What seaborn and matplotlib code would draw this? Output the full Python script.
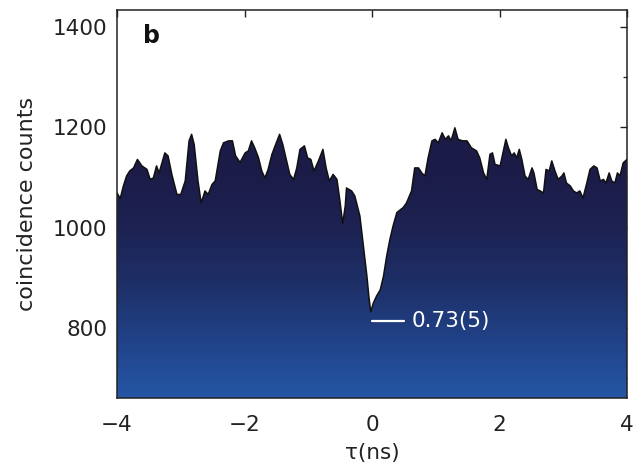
import numpy as np
import pandas as pd
import matplotlib
matplotlib.use("Agg")
import matplotlib.pyplot as plt
from matplotlib.colors import LinearSegmentedColormap
from matplotlib.ticker import MultipleLocator
import seaborn as sns

# Delay between detection events (ns) and coincidence counts
tau_ns = [
    -4.00, -3.95, -3.90, -3.85, -3.80, -3.74, -3.68, -3.61, -3.53, -3.48,
    -3.43, -3.38, -3.34, -3.25, -3.20, -3.14, -3.06, -3.00, -2.93, -2.87,
    -2.83, -2.79, -2.73, -2.68, -2.62, -2.57, -2.51, -2.46, -2.38, -2.33,
    -2.25, -2.19, -2.14, -2.07, -1.99, -1.94, -1.89, -1.84, -1.78, -1.73,
    -1.68, -1.63, -1.57, -1.52, -1.45, -1.40, -1.34, -1.29, -1.23, -1.18,
    -1.13, -1.06, -1.01, -0.96, -0.91, -0.84, -0.77, -0.72, -0.67, -0.61,
    -0.55, -0.50, -0.46, -0.42, -0.40, -0.32, -0.27, -0.19, -0.14, -0.08,
    -0.05, -0.02, 0.02, 0.07, 0.13, 0.18, 0.23, 0.28, 0.33, 0.39,
    0.49, 0.54, 0.62, 0.67, 0.73, 0.78, 0.83, 0.88, 0.94, 0.99,
    1.04, 1.10, 1.15, 1.20, 1.24, 1.30, 1.35, 1.42, 1.49, 1.56,
    1.64, 1.69, 1.75, 1.80, 1.85, 1.89, 1.93, 2.01, 2.06, 2.10,
    2.14, 2.19, 2.23, 2.27, 2.31, 2.35, 2.40, 2.45, 2.51, 2.54,
    2.59, 2.64, 2.69, 2.73, 2.78, 2.82, 2.87, 2.92, 2.98, 3.01,
    3.05, 3.11, 3.16, 3.21, 3.26, 3.31, 3.37, 3.42, 3.48, 3.53,
    3.58, 3.63, 3.67, 3.72, 3.76, 3.81, 3.85, 3.89, 3.94, 4.00,
]
counts = [
    1069, 1058, 1083, 1103, 1113, 1119, 1136, 1123, 1116, 1096,
    1099, 1123, 1109, 1149, 1143, 1106, 1066, 1066, 1093, 1173,
    1186, 1166, 1093, 1049, 1073, 1066, 1086, 1093, 1153, 1169,
    1173, 1173, 1143, 1130, 1149, 1153, 1173, 1159, 1139, 1113,
    1099, 1116, 1146, 1163, 1186, 1166, 1133, 1106, 1096, 1119,
    1156, 1163, 1139, 1136, 1113, 1133, 1156, 1119, 1093, 1106,
    1096, 1050, 1008, 1043, 1079, 1073, 1063, 1023, 969, 903,
    863, 832, 849, 863, 876, 903, 943, 976, 1003, 1030,
    1040, 1049, 1073, 1119, 1119, 1109, 1103, 1139, 1173, 1176,
    1169, 1189, 1176, 1183, 1173, 1199, 1176, 1173, 1173, 1159,
    1153, 1139, 1109, 1096, 1146, 1149, 1126, 1123, 1153, 1176,
    1159, 1143, 1149, 1139, 1156, 1136, 1103, 1096, 1119, 1109,
    1076, 1073, 1069, 1116, 1113, 1133, 1113, 1096, 1103, 1109,
    1089, 1083, 1073, 1069, 1073, 1059, 1089, 1116, 1123, 1119,
    1093, 1096, 1089, 1109, 1093, 1089, 1109, 1103, 1129, 1136,
]

x_ticks = [-4, -2, 0, 2, 4]
y_ticks = [800, 1000, 1200, 1400]
x_limits = (-4, 4)
y_limits = (660, 1434)
dip_label = "0.73(5)"
dip_label_level = 813
panel_letter = "b"

df = pd.DataFrame({"tau": tau_ns, "counts": counts})

sns.set_theme(style="white")
plt.rcParams["font.family"] = ["DejaVu Sans"]

fig = plt.figure(figsize=(6.35, 4.68), dpi=100)
ax = fig.add_axes([0.1843, 0.1496, 0.8031, 0.829])

# Area under the histogram, painted with a vertical navy-to-blue gradient
area = ax.fill_between(df["tau"], df["counts"], y_limits[0],
                       facecolor="none", edgecolor="none")
grad_cmap = LinearSegmentedColormap.from_list(
    "navy_blue",
    [(0.0, "#2557a5"), (0.18, "#21438a"), (0.38, "#1e3068"),
     (0.58, "#1c2252"), (0.75, "#1c1c49"), (1.0, "#1c1a45")],
)
levels = np.linspace(0, 1, 256).reshape(-1, 1)
img = ax.imshow(levels, cmap=grad_cmap, origin="lower", aspect="auto",
                extent=[x_limits[0], x_limits[1], y_limits[0], 1250],
                interpolation="bicubic", zorder=1)
img.set_clip_path(area.get_paths()[0], ax.transData)

sns.lineplot(data=df, x="tau", y="counts", ax=ax, color="#111111",
             linewidth=1.1, zorder=2)

# Marker for the normalized dip depth
ax.plot([0.0, 0.5], [dip_label_level, dip_label_level], color="white",
        linewidth=1.6, zorder=3)
ax.text(0.62, dip_label_level, dip_label, color="white", fontsize=15.5,
        va="center", ha="left", zorder=3)

ax.text(0.05, 0.915, panel_letter, transform=ax.transAxes, fontsize=17,
        fontweight="bold", color="#111111", va="baseline", ha="left")

ax.set_xlim(*x_limits)
ax.set_ylim(*y_limits)
ax.set_xticks(x_ticks)
ax.set_xticklabels([f"\u2212{abs(v)}" if v < 0 else str(v) for v in x_ticks])
ax.set_yticks(y_ticks)
ax.yaxis.set_minor_locator(MultipleLocator(100))
ax.tick_params(axis="both", which="both", direction="in", top=True,
               right=True, colors="#222222", labelcolor="#222222")
ax.tick_params(axis="both", which="major", length=5, width=1.0,
               labelsize=15.5)
ax.tick_params(axis="y", which="minor", length=3, width=0.9)
ax.tick_params(axis="y", which="major", pad=7)
ax.tick_params(axis="x", which="major", pad=12)

ax.set_xlabel("\u03c4(ns)", fontsize=15.5, color="#222222", labelpad=6)
ax.set_ylabel("coincidence counts", fontsize=16, color="#222222",
              labelpad=11)

for spine in ax.spines.values():
    spine.set_visible(True)
    spine.set_color("#222222")
    spine.set_linewidth(1.1)
    spine.set_zorder(4)

fig.savefig("out.png", dpi=100, facecolor="white")
